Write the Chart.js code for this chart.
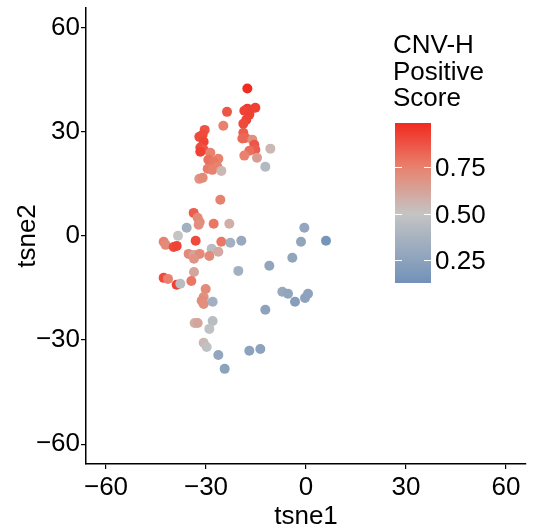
<!DOCTYPE html>
<html>
<head>
<meta charset="utf-8">
<script src="https://cdn.jsdelivr.net/npm/chart.js@4.4.1/dist/chart.umd.min.js"></script>
<style>
  html, body { margin: 0; padding: 0; background: #fff; }
  #wrap { width: 538px; height: 529px; }
</style>
</head>
<body>
<div id="wrap"><canvas id="tsneChart" width="538" height="529"></canvas></div>
<script>
// t-SNE coordinates and score
const tsne1 = [-17.6, -17.6, -16.7, -15.2, -18.5, -17.0, -17.9, -18.8, -23.7, -24.8,
    -18.8, -18.2, -19.1, -16.1, -10.7, -15.5, -15.2, -17.0, -18.5, -14.7,
    -12.2, -30.4, -31.0, -32.0, -30.7, -31.7, -30.7, -31.7, -28.7, -29.3,
    -26.3, -27.7, -29.5, -26.6, -28.1, -25.4, -32.0, -31.0, -25.7, -33.7,
    -32.5, -31.9, -32.2, -35.8, -27.7, -23.0, -38.4, -33.1, -42.7, -42.1,
    -39.7, -38.8, -25.4, -22.7, -19.4, -28.3, -26.3, -35.2, -33.6, -31.9,
    -33.6, -29.0, -20.3, -33.6, -42.7, -41.4, -38.8, -37.7, -34.4, -30.1,
    -30.7, -31.3, -30.7, -28.0, -33.4, -32.5, -28.0, -29.0, -30.7, -29.8,
    -26.3, -24.4, -17.0, -13.7, -0.5, -1.5, 6.0, -4.1, -11.0, -7.1,
    -5.4, -3.3, -0.3, 0.6, -12.2];
const tsne2 = [42.4, 36.6, 36.3, 36.9, 36.0, 34.9, 33.4, 32.3, 35.7, 31.7,
    29.7, 28.2, 28.0, 27.7, 25.1, 26.2, 24.8, 24.5, 23.1, 22.5,
    19.9, 30.5, 29.1, 28.5, 27.1, 25.4, 24.8, 24.2, 23.9, 21.9,
    22.2, 21.3, 19.3, 19.9, 19.0, 18.7, 16.4, 16.7, 10.4, 6.6,
    5.2, 4.0, 3.2, 2.3, 3.5, 3.5, 0.0, -1.4, -1.7, -2.6,
    -3.2, -2.9, -1.7, -2.0, -1.4, -3.7, -4.6, -5.2, -5.5, -5.2,
    -6.6, -5.8, -10.1, -10.4, -12.1, -12.4, -14.1, -13.8, -13.0, -15.3,
    -17.6, -18.7, -19.6, -19.0, -25.1, -25.1, -24.5, -26.8, -30.8, -32.0,
    -34.3, -38.3, -33.1, -32.6, 2.3, -1.7, -1.4, -6.3, -8.6, -16.1,
    -16.7, -19.0, -17.9, -16.7, -21.3];
const score = [0.99, 0.95, 0.93, 0.93, 0.92, 0.93, 0.92, 0.90, 0.87, 0.75,
    0.85, 0.83, 0.82, 0.70, 0.55, 0.87, 0.85, 0.80, 0.75, 0.65,
    0.42, 0.88, 0.90, 0.90, 0.92, 0.90, 0.87, 0.93, 0.75, 0.80,
    0.75, 0.78, 0.77, 0.75, 0.75, 0.55, 0.68, 0.72, 0.75, 0.85,
    0.72, 0.72, 0.70, 0.35, 0.78, 0.58, 0.50, 0.90, 0.75, 0.72,
    0.90, 0.92, 0.78, 0.35, 0.30, 0.45, 0.60, 0.72, 0.62, 0.72,
    0.68, 0.72, 0.35, 0.62, 0.90, 0.75, 0.93, 0.45, 0.78, 0.72,
    0.70, 0.72, 0.70, 0.35, 0.58, 0.62, 0.45, 0.48, 0.55, 0.48,
    0.28, 0.25, 0.25, 0.25, 0.28, 0.27, 0.15, 0.27, 0.27, 0.30,
    0.27, 0.22, 0.25, 0.25, 0.25];

const axisTicks = [-60, -30, 0, 30, 60];
const legendTicks = [0.25, 0.50, 0.75];
const scoreRange = [0.126, 0.99];

// colour stops (score -> rgb)
const stopVals = [0, 0.5, 0.75, 1];
const stopCols = [[86, 128, 180], [196, 196, 196], [232, 130, 110], [242, 38, 28]];

const scoreColor = (v) => {
    let i = 0;
    while (i < stopVals.length - 2 && v > stopVals[i + 1]) i++;
    const t = Math.max(0, Math.min(1, (v - stopVals[i]) / (stopVals[i + 1] - stopVals[i])));
    const c = stopCols[i].map((a, k) => Math.round(a + (stopCols[i + 1][k] - a) * t));
    return `rgb(${c[0]},${c[1]},${c[2]})`;
};

const FONT = '"Liberation Sans", Arial, Helvetica, sans-serif';
const FONT_SIZE = 26;
const minus = (v) => String(v).replace('-', '\u2212');

// Legend drawn on top (colour bar)
const colorBarLegend = {
    id: 'colorBarLegend',
    afterDraw(chart) {
        const ctx = chart.ctx;
        const x0 = 395, w = 36, top = 123, bottom = 283;
        ctx.save();
        ctx.fillStyle = '#000';
        ctx.font = FONT_SIZE + 'px ' + FONT;
        ctx.textBaseline = 'alphabetic';
        ctx.textAlign = 'left';
        ['CNV-H', 'Positive', 'Score'].forEach((t, i) => ctx.fillText(t, 393, 53 + i * 26.5));

        const grad = ctx.createLinearGradient(0, bottom, 0, top);
        const steps = 30;
        for (let s = 0; s <= steps; s++) {
            const v = scoreRange[0] + (scoreRange[1] - scoreRange[0]) * s / steps;
            grad.addColorStop(s / steps, scoreColor(v));
        }
        ctx.fillStyle = grad;
        ctx.fillRect(x0, top, w, bottom - top);

        const yOf = (v) => bottom - (v - scoreRange[0]) / (scoreRange[1] - scoreRange[0]) * (bottom - top);
        ctx.strokeStyle = '#fff';
        ctx.lineWidth = 1;
        ctx.textBaseline = 'middle';
        ctx.fillStyle = '#000';
        legendTicks.forEach((v) => {
            const y = Math.round(yOf(v)) + 0.5;
            ctx.beginPath();
            ctx.moveTo(x0, y); ctx.lineTo(x0 + 7, y);
            ctx.moveTo(x0 + w - 7, y); ctx.lineTo(x0 + w, y);
            ctx.stroke();
            ctx.fillText(v.toFixed(2), 435, y + 1);
        });
        ctx.restore();
    }
};

const points = tsne1.map((x, i) => ({ x: x, y: tsne2[i] }));

const axisCommon = (title, tickPad, titlePad) => ({
    type: 'linear',
    min: -66,
    max: 66,
    afterBuildTicks: (scale) => { scale.ticks = axisTicks.map((v) => ({ value: v })); },
    ticks: {
        color: '#000',
        font: { family: FONT, size: FONT_SIZE },
        padding: tickPad,
        callback: (v) => minus(v)
    },
    grid: {
        display: true,
        drawOnChartArea: false,
        drawTicks: true,
        tickLength: 5,
        color: '#000',
        lineWidth: 1.2
    },
    border: { display: true, color: '#000', width: 1.5 },
    title: {
        display: true,
        text: title,
        color: '#000',
        font: { family: FONT, size: FONT_SIZE },
        padding: titlePad
    }
});

const xAxis = axisCommon('tsne1', 3, { top: 0, bottom: -3 });
xAxis.afterFit = (s) => { s.height = 65; s.paddingLeft = 0; s.paddingRight = 0; };
const yAxis = axisCommon('tsne2', 1, { top: 12, bottom: 0 });
yAxis.min = -65.7;
yAxis.max = 65.6;
yAxis.afterFit = (s) => { s.width = 86; s.paddingTop = 0; s.paddingBottom = 0; };

new Chart(document.getElementById('tsneChart'), {
    type: 'scatter',
    data: {
        datasets: [{
            data: points,
            backgroundColor: score.map(scoreColor),
            borderWidth: 0,
            pointRadius: 5,
            pointHoverRadius: 5
        }]
    },
    options: {
        responsive: false,
        animation: false,
        layout: { padding: { top: 8, right: 12, left: 0, bottom: 0 } },
        plugins: {
            legend: { display: false },
            tooltip: { enabled: false }
        },
        scales: { x: xAxis, y: yAxis }
    },
    plugins: [colorBarLegend]
});
</script>
</body>
</html>
